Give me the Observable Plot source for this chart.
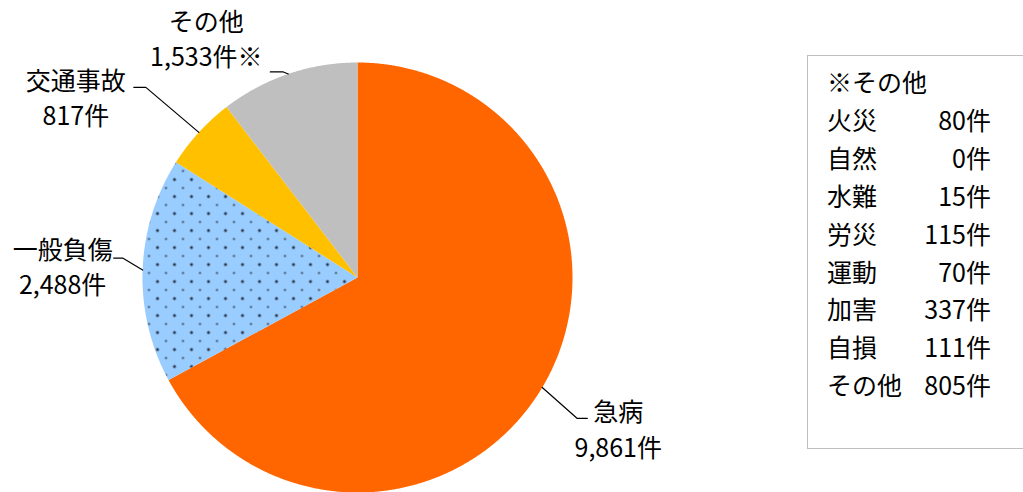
<!DOCTYPE html>
<html><head><meta charset="utf-8">
<script src="https://cdn.jsdelivr.net/npm/d3@7"></script>
<script src="https://cdn.jsdelivr.net/npm/@observablehq/plot@0.6"></script>
<style>
html,body{margin:0;padding:0;background:#fff;}
#wrap{position:relative;width:1023px;height:492px;overflow:hidden;font-family:"Noto Sans CJK JP","Noto Sans",sans-serif;}
#legend{position:absolute;left:807px;top:55px;width:240px;height:394px;border:1px solid #BFBFBF;box-sizing:border-box;color:#000;font-size:25px;}
#legend .row{position:absolute;left:19px;width:164px;height:38px;line-height:38px;white-space:nowrap;}
#legend .val{position:absolute;right:0;top:0;}
</style></head>
<body><div id="wrap"><div id="chart"></div><div id="legend"></div></div>
<script>
// ---- data ----
const categories = ["急病", "一般負傷", "交通事故", "その他"];
const counts = [9861, 2488, 817, 1533];
const valueLabels = ["9,861件", "2,488件", "817件", "1,533件※"];
const sliceColors = ["#FF6600", "url(#dots)", "#FFC000", "#BFBFBF"];
const legendTitle = "※その他";
const otherNames = ["火災", "自然", "水難", "労災", "運動", "加害", "自損", "その他"];
const otherCounts = [80, 0, 15, 115, 70, 337, 111, 805];

// ---- layout ----
const W = 1023, H = 492, CX = 357, CY = 277, R = 215;
// leader/label offsets in px relative to the slice's edge midpoint
const labelLayout = {
  "急病":   {elbow: [35, 31],  end: [45, 31],  text: [76, 40]},
  "一般負傷": {elbow: [-20, -12], end: [-29, -12], text: [-80, -5]},
  "交通事故": {elbow: [-53, -45], end: [-65, -45], text: [-123, -36]},
  "その他":  {elbow: [-5, -2],  end: [-18, -2],  text: [-82, -37]}
};

const arcs = d3.pie().sort(null).value(d => d)(counts);
const poly = [];
arcs.forEach((a, i) => {
  poly.push({cat: categories[i], x: 0, y: 0});
  const n = Math.max(2, Math.ceil((a.endAngle - a.startAngle) / 0.005));
  for (let k = 0; k <= n; k++) {
    const t = a.startAngle + (a.endAngle - a.startAngle) * k / n;
    poly.push({cat: categories[i], x: Math.sin(t), y: Math.cos(t)});
  }
});
const leaders = [], labels = [];
arcs.forEach((a, i) => {
  const m = (a.startAngle + a.endAngle) / 2;
  const ex = Math.sin(m), ey = Math.cos(m);
  const L = labelLayout[categories[i]];
  const pt = ([dx, dy]) => ({cat: categories[i], x: ex + dx / R, y: ey - dy / R});
  leaders.push({cat: categories[i], x: ex, y: ey}, pt(L.elbow), pt(L.end));
  const p = pt(L.text);
  labels.push({...p, text: categories[i] + "\n" + valueLabels[i]});
});

const plot = Plot.plot({
  width: W, height: H, margin: 0,
  x: {domain: [-1, 1], range: [CX - R, CX + R], axis: null},
  y: {domain: [-1, 1], range: [CY + R, CY - R], axis: null},
  color: {domain: categories, range: sliceColors},
  marks: [
    Plot.line(poly, {x: "x", y: "y", z: "cat", fill: "cat", stroke: "none", curve: "linear"}),
    Plot.line(leaders, {x: "x", y: "y", z: "cat", stroke: "#000", strokeWidth: 1.2}),
    Plot.text(labels, {x: "x", y: "y", text: "text", fontSize: 25, lineHeight: 1.42, fill: "#000",
      fontFamily: '"Noto Sans CJK JP", sans-serif', textAnchor: "middle"})
  ]
});
// dotted pattern for 一般負傷
const ns = "http://www.w3.org/2000/svg";
const defs = document.createElementNS(ns, "defs");
defs.innerHTML = `<pattern id="dots" patternUnits="userSpaceOnUse" width="17" height="17" x="${CX}" y="${CY}">
  <rect width="17" height="17" fill="#99CCFF"/>
  <circle cx="4" cy="4" r="1.5" fill="#27313F"/>
  <circle cx="12.5" cy="12.5" r="1.1" fill="#333D4C"/>
</pattern>`;
plot.insertBefore(defs, plot.firstChild);
document.getElementById("chart").appendChild(plot);

// legend box (※その他 breakdown)
const lg = document.getElementById("legend");
const rows = [{name: legendTitle, val: ""}].concat(otherNames.map((n, i) => ({name: n, val: otherCounts[i] + "件"})));
rows.forEach((r, i) => {
  const d = document.createElement("div");
  d.className = "row";
  d.style.top = (6 + i * 37.9) + "px";
  d.textContent = r.name;
  if (r.val) { const v = document.createElement("span"); v.className = "val"; v.textContent = r.val; d.appendChild(v); }
  lg.appendChild(d);
});
</script></body></html>
